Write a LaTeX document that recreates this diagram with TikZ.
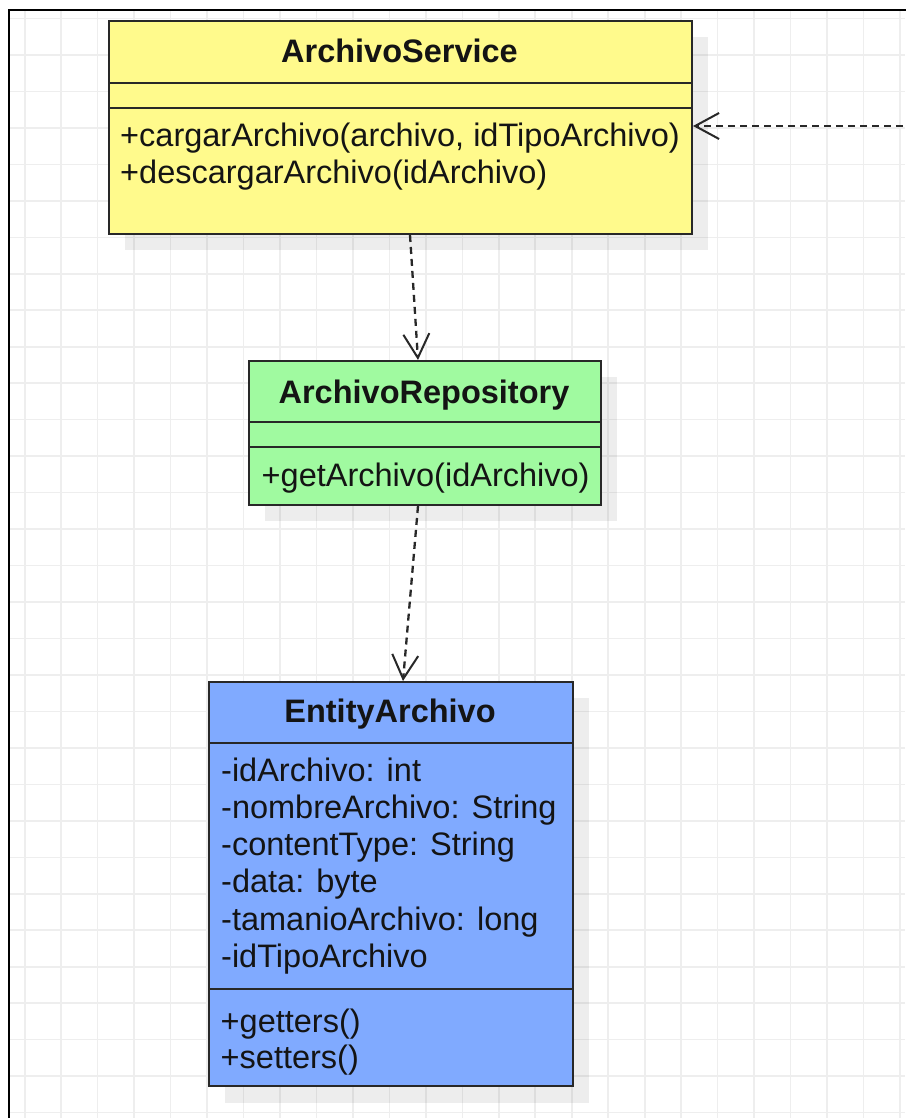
\documentclass[tikz,border=0pt]{standalone}
\usepackage{fontspec}
\setmainfont{Liberation Sans}
\usetikzlibrary{arrows.meta,calc}

\definecolor{svcfill}{RGB}{255,250,140}
\definecolor{repofill}{RGB}{160,250,160}
\definecolor{entfill}{RGB}{128,170,255}
\definecolor{edge}{RGB}{40,40,40}
\definecolor{gridline}{RGB}{238,238,238}
\definecolor{ink}{RGB}{20,20,20}

\tikzset{
  umlbox/.style={draw=edge, line width=2pt, rectangle, inner sep=0pt, anchor=north west},
  shadowbox/.style={fill=black, opacity=0.07, draw=none},
  divider/.style={draw=edge, line width=2pt},
  title/.style={font=\fontsize{32.5pt}{36.8pt}\selectfont\bfseries, text=ink, inner sep=0pt, anchor=base},
  member/.style={font=\fontsize{32.5pt}{36.8pt}\selectfont, text=ink, inner sep=0pt, anchor=base west},
  dep/.style={draw=edge, line width=2.3pt, dash pattern=on 7pt off 5pt,
    -{Straight Barb[length=24pt,width=26pt,line width=2pt]}}
}

\begin{document}
\begin{tikzpicture}[x=1pt, y=-1pt]
  \useasboundingbox (0,0) rectangle (905,1118);
  \fill[white] (0,0) rectangle (905,1118);

  % background grid inside the frame
  \begin{scope}
    \clip (10,11) rectangle (905,1118);
    \foreach \k in {0,...,24} {
      \draw[gridline, line width=1.6pt] ({24.7+36.47*\k},0) -- ({24.7+36.47*\k},1118);
    }
    \foreach \k in {0,...,30} {
      \draw[gridline, line width=1.6pt] (0,{18.5+36.47*\k}) -- (905,{18.5+36.47*\k});
    }
  \end{scope}

  % frame
  \draw[black, line width=2.5pt] (9,1125) -- (9,10) -- (912,10);

  % drop shadows
  \fill[shadowbox] (125,37) rectangle (708,250);
  \fill[shadowbox] (265,377) rectangle (617,521);
  \fill[shadowbox] (225,698) rectangle (589,1103);

  % ArchivoService
  \node[umlbox, fill=svcfill, minimum width=583pt, minimum height=213pt] (svc) at (108,20) {};
  \draw[divider] (108,83) -- (691,83);
  \draw[divider] (108,108) -- (691,108);
  \node[title] (svctitle) at (399.5,63) {ArchivoService};
  \node[member] (svcm1) at (120,146.5) {+cargarArchivo(archivo, idTipoArchivo)};
  \node[member] (svcm2) at (120,183.5) {+descargarArchivo(idArchivo)};

  % ArchivoRepository
  \node[umlbox, fill=repofill, minimum width=352pt, minimum height=144pt] (repo) at (248,360) {};
  \draw[divider] (248,422) -- (600,422);
  \draw[divider] (248,447) -- (600,447);
  \node[title] (repotitle) at (424,403) {ArchivoRepository};
  \node[member] (repom1) at (261.5,486) {+getArchivo(idArchivo)};

  % EntityArchivo
  \node[umlbox, fill=entfill, minimum width=364pt, minimum height=404pt] (ent) at (208,681) {};
  \draw[divider] (208,743) -- (572,743);
  \draw[divider] (208,989) -- (572,989);
  \node[title] (enttitle) at (390,722) {EntityArchivo};
  \node[member] (enta1) at (221,781) {-idArchivo: int};
  \node[member] (enta2) at (221,818) {-nombreArchivo: String};
  \node[member] (enta3) at (221,855) {-contentType: String};
  \node[member] (enta4) at (221,892.5) {-data: byte};
  \node[member] (enta5) at (221,930) {-tamanioArchivo: long};
  \node[member] (enta6) at (221,967) {-idTipoArchivo};
  \node[member] (entm1) at (220.5,1032) {+getters()};
  \node[member] (entm2) at (220.5,1068) {+setters()};

  % dependencies
  \coordinate (outside) at (915,126);
  \draw[dep] (outside) -- (svc.east |- outside);
  \draw[dep] ($(svc.south west)+(302,0)$) -- ($(repo.north west)+(170,0)$);
  \draw[dep] ($(repo.south west)+(170,0)$) -- ($(ent.north west)+(195,0)$);
\end{tikzpicture}
\end{document}
